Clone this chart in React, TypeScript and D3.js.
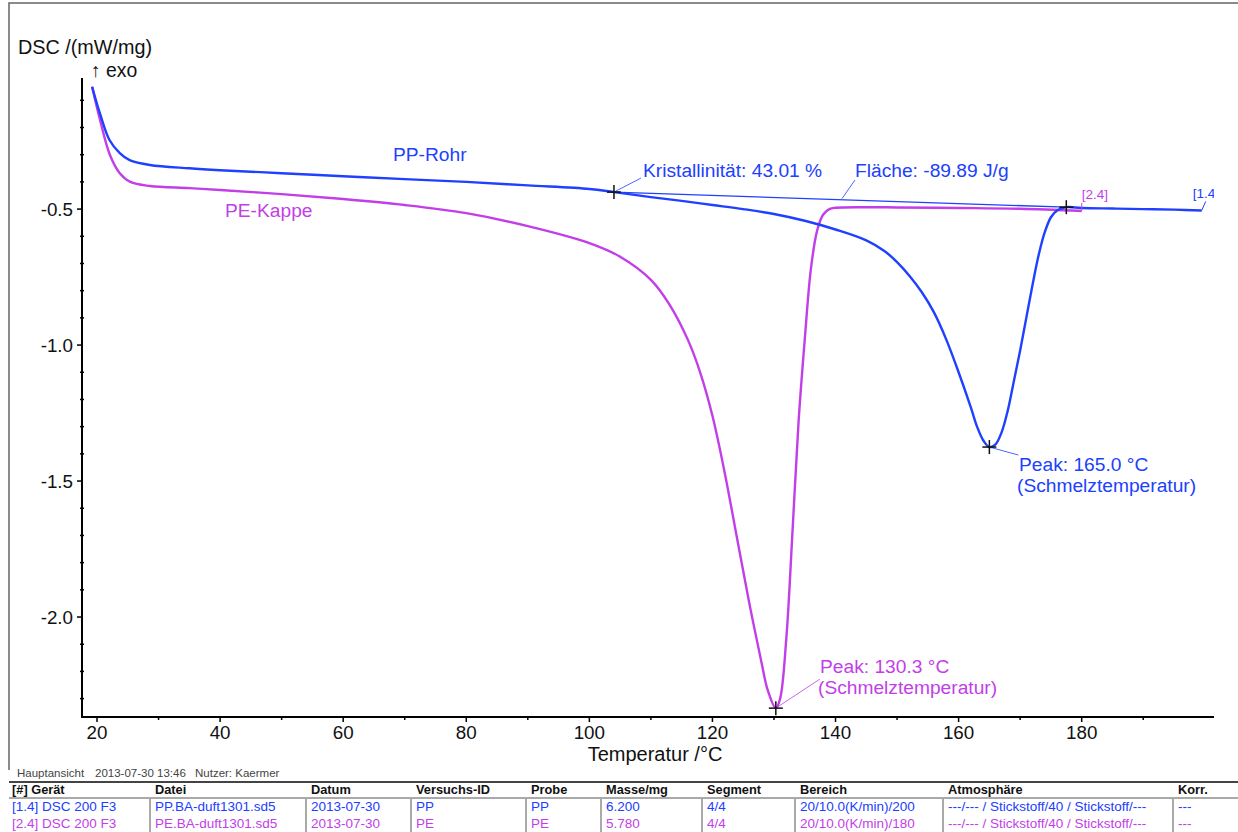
import React from 'react';
import * as d3 from 'd3';

// PP-Rohr (blue) DSC curve
const ppTemp = [19.2, 20.5, 22, 23.7, 25.3, 28.6, 35, 40, 50, 60, 70, 80, 90, 100, 104, 110, 115, 120, 125, 130, 135, 140, 145, 148, 150, 152, 154, 156, 158, 160, 162, 163, 164, 165, 166, 167, 168, 169, 170, 171, 172, 173, 174, 175, 176, 177.5, 180, 185, 190, 195, 199.5];
const ppDsc = [-0.05, -0.15, -0.245, -0.294, -0.32, -0.338, -0.35, -0.357, -0.368, -0.379, -0.39, -0.4, -0.413, -0.426, -0.4375, -0.456, -0.47, -0.485, -0.5, -0.518, -0.543, -0.575, -0.615, -0.655, -0.695, -0.745, -0.805, -0.88, -0.98, -1.1, -1.23, -1.3, -1.35, -1.375, -1.365, -1.32, -1.24, -1.13, -1.02, -0.9, -0.78, -0.67, -0.585, -0.53, -0.505, -0.493, -0.496, -0.498, -0.5, -0.502, -0.505];

// PE-Kappe (magenta) DSC curve
const peTemp = [19.2, 20.5, 22.1, 23.7, 25.4, 28.6, 35, 40, 50, 60, 70, 80, 90, 100, 105, 110, 113, 116, 118, 120, 122, 124, 126, 128, 129, 130.3, 131, 132, 133, 134, 135, 136, 137, 138, 139, 140, 145, 150, 160, 170, 180];
const peDsc = [-0.05, -0.173, -0.301, -0.368, -0.4, -0.415, -0.423, -0.43, -0.445, -0.463, -0.485, -0.515, -0.5625, -0.625, -0.675, -0.76, -0.85, -0.98, -1.1, -1.26, -1.47, -1.71, -1.95, -2.17, -2.27, -2.335, -2.3, -2.08, -1.69, -1.28, -0.98, -0.72, -0.58, -0.52, -0.5, -0.495, -0.493, -0.494, -0.496, -0.499, -0.507];

const xTicks = [20, 40, 60, 80, 100, 120, 140, 160, 180];
const yTicks = [-0.5, -1.0, -1.5, -2.0];

// evaluation baseline (Kristallinität / Fläche) and peaks
const baseStart = [104, -0.4375];
const baseEnd = [177.5, -0.493];
const ppPeak = [165.0, -1.375];
const pePeak = [130.3, -2.335];

const tableHead = ['[#] Gerät', 'Datei', 'Datum', 'Versuchs-ID', 'Probe', 'Masse/mg', 'Segment', 'Bereich', 'Atmosphäre', 'Korr.'];
const tableRows = [
  ['[1.4] DSC 200 F3', 'PP.BA-duft1301.sd5', '2013-07-30', 'PP', 'PP', '6.200', '4/4', '20/10.0(K/min)/200', '---/--- / Stickstoff/40 / Stickstoff/---', '---'],
  ['[2.4] DSC 200 F3', 'PE.BA-duft1301.sd5', '2013-07-30', 'PE', 'PE', '5.780', '4/4', '20/10.0(K/min)/180', '---/--- / Stickstoff/40 / Stickstoff/---', '---'],
];
const footerInfo = ['Hauptansicht', '2013-07-30 13:46', 'Nutzer: Kaermer'];

const BLUE = '#2040ff';
const MAG = '#c23ee8';
const FONT = '"Liberation Sans", Arial, sans-serif';

const App = () => {
  const width = 1238;
  const height = 832;
  const plot = { left: 82, right: 1214, top: 78, bottom: 717 };

  const x = d3.scaleLinear().domain([17.56, 201.5]).range([plot.left, plot.right]);
  const y = d3.scaleLinear().domain([-2.3676, -0.018]).range([plot.bottom, plot.top]);

  const line = d3.line<number[]>()
    .x(d => x(d[0]))
    .y(d => y(d[1]))
    .curve(d3.curveCatmullRom.alpha(0.5));

  const ppPts = ppTemp.map((t, i) => [t, ppDsc[i]]);
  const pePts = peTemp.map((t, i) => [t, peDsc[i]]);

  const minorX = d3.range(30, 200, 20);
  const minorY = d3.range(-2.3, 0, 0.1).filter(v => Math.abs(v * 2 - Math.round(v * 2)) > 0.01);

  const cross = (px: number, py: number, key: string) => (
    <g key={key} stroke="#111" strokeWidth={1.5}>
      <line x1={px - 7} x2={px + 7} y1={py} y2={py} />
      <line x1={px} x2={px} y1={py - 7} y2={py + 7} />
    </g>
  );

  const colX = [12, 155, 311, 416, 531, 606, 707, 800, 948, 1178];
  const infoX = [17, 95, 195];
  const fs = 19.2;

  return (
    <svg width={width} height={height} viewBox={`0 0 ${width} ${height}`}
      style={{ position: 'absolute', left: 0, top: 0, background: '#fff' }} fontFamily={FONT}>
      <defs>
        <clipPath id="plotclip">
          <rect x={plot.left} y={plot.top - 20} width={plot.right - plot.left} height={plot.bottom - plot.top + 20} />
        </clipPath>
      </defs>

      {/* outer frame */}
      <path d={`M9,770 V3 H1238`} fill="none" stroke="#666" strokeWidth={1.5} />

      {/* axis titles */}
      <text x={18} y={54} fontSize={19.8} fill="#111">DSC /(mW/mg)</text>
      <text x={91} y={77} fontSize={19.4} fill="#111">↑ exo</text>
      <text x={655} y={761} fontSize={20} fill="#111" textAnchor="middle">Temperatur /°C</text>

      {/* axes */}
      <path d={`M${plot.left},${plot.top} V${plot.bottom} H${plot.right}`} fill="none" stroke="#000" strokeWidth={2} />
      {xTicks.map(t => (
        <g key={`xt${t}`}>
          <line x1={x(t)} x2={x(t)} y1={plot.bottom} y2={plot.bottom + 5} stroke="#000" strokeWidth={1.5} />
          <text x={x(t)} y={739} fontSize={18.8} textAnchor="middle" fill="#111">{t}</text>
        </g>
      ))}
      {minorX.map(t => (
        <line key={`xm${t}`} x1={x(t)} x2={x(t)} y1={plot.bottom} y2={plot.bottom + 3} stroke="#000" strokeWidth={1.5} />
      ))}
      {yTicks.map(v => (
        <g key={`yt${v}`}>
          <line x1={plot.left - 5} x2={plot.left} y1={y(v)} y2={y(v)} stroke="#000" strokeWidth={1.5} />
          <text x={73} y={y(v) + 7} fontSize={18.8} textAnchor="end" fill="#111">{v.toFixed(1)}</text>
        </g>
      ))}
      {minorY.map(v => (
        <line key={`ym${v.toFixed(1)}`} x1={plot.left - 2} x2={plot.left + 2} y1={y(v)} y2={y(v)} stroke="#000" strokeWidth={1.5} />
      ))}

      <g clipPath="url(#plotclip)">
        {/* curves */}
        <path d={line(pePts) || ''} fill="none" stroke={MAG} strokeWidth={2.4} />
        <path d={line(ppPts) || ''} fill="none" stroke={BLUE} strokeWidth={2.4} />
        {/* baseline */}
        <line x1={x(baseStart[0])} y1={y(baseStart[1])} x2={x(baseEnd[0])} y2={y(baseEnd[1])} stroke={BLUE} strokeWidth={1.3} />

        {/* end markers */}
        <path d={`M${x(180)},${y(-0.507)} V${y(-0.507) - 8}`} stroke={MAG} strokeWidth={1} fill="none" />
        <text x={x(180)} y={y(-0.507) - 12} fontSize={13.5} fill={MAG}>[2.4]</text>
        <path d={`M${x(199.5)},${y(-0.505)} L${x(199.5) + 4},${y(-0.505) - 9}`} stroke={BLUE} strokeWidth={1} fill="none" />
        <text x={x(199.5) - 9} y={y(-0.505) - 12} fontSize={13.5} fill={BLUE}>[1.4]</text>
      </g>

      {/* series labels */}
      <text x={393} y={161} fontSize={fs} fill={BLUE}>PP-Rohr</text>
      <text x={225} y={217} fontSize={fs} fill={MAG}>PE-Kappe</text>

      {/* annotations */}
      <line x1={x(baseStart[0])} y1={y(baseStart[1])} x2={x(baseStart[0]) + 27} y2={y(baseStart[1]) - 14} stroke={BLUE} strokeWidth={0.8} />
      <text x={643} y={177} fontSize={fs} fill={BLUE}>Kristallinität: 43.01 %</text>
      <line x1={842} y1={y(-0.4615)} x2={855} y2={180} stroke={BLUE} strokeWidth={0.8} />
      <text x={855} y={177} fontSize={fs} fill={BLUE}>Fläche: -89.89 J/g</text>

      <line x1={x(ppPeak[0])} y1={y(ppPeak[1])} x2={x(ppPeak[0]) + 29} y2={y(ppPeak[1]) + 8} stroke={BLUE} strokeWidth={0.8} />
      <text x={1019} y={471} fontSize={fs} fill={BLUE}>Peak: 165.0 °C</text>
      <text x={1017} y={492} fontSize={fs} fill={BLUE}>(Schmelztemperatur)</text>

      <line x1={x(pePeak[0])} y1={y(pePeak[1])} x2={x(pePeak[0]) + 44} y2={y(pePeak[1]) - 29} stroke={MAG} strokeWidth={0.8} />
      <text x={820} y={673} fontSize={fs} fill={MAG}>Peak: 130.3 °C</text>
      <text x={818} y={694} fontSize={fs} fill={MAG}>(Schmelztemperatur)</text>

      {cross(x(baseStart[0]), y(baseStart[1]), 'c1')}
      {cross(x(baseEnd[0]), y(baseEnd[1]), 'c2')}
      {cross(x(ppPeak[0]), y(ppPeak[1]), 'c3')}
      {cross(x(pePeak[0]), y(pePeak[1]), 'c4')}

      {/* footer */}
      {footerInfo.map((s, i) => (
        <text key={`f${i}`} x={infoX[i]} y={777} fontSize={11.5} fill="#444">{s}</text>
      ))}
      <line x1={9} x2={1238} y1={782} y2={782} stroke="#444" strokeWidth={2} />
      <line x1={9} x2={1238} y1={798} y2={798} stroke="#555" strokeWidth={1} />
      {tableHead.map((h, i) => (
        <text key={`h${i}`} x={colX[i]} y={794} fontSize={12.8} fontWeight="bold" fill="#111">{h}</text>
      ))}
      {colX.slice(1).map((cx, i) => (
        <line key={`v${i}`} x1={cx - 5} x2={cx - 5} y1={799} y2={832} stroke="#555" strokeWidth={1} />
      ))}
      {tableRows.map((row, r) => row.map((c, i) => (
        <text key={`r${r}c${i}`} x={colX[i]} y={811 + r * 17} fontSize={13.5} fill={r === 0 ? BLUE : MAG}>{c}</text>
      )))}
    </svg>
  );
};

export default App;
